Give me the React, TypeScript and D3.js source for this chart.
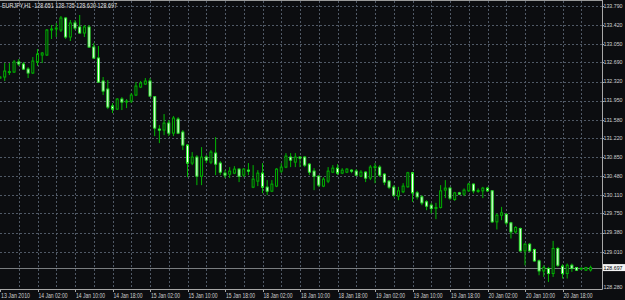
import React from "react";
import * as d3 from "d3";

const opens = [132.387,132.407,132.504,132.504,132.699,132.660,132.562,132.485,132.699,132.835,132.835,133.322,133.342,133.322,133.556,133.186,133.459,133.381,133.264,133.381,132.991,132.777,132.329,132.173,131.842,131.783,131.978,131.919,131.939,132.056,132.212,132.270,132.329,132.023,131.393,131.374,131.510,131.315,131.588,131.335,131.082,130.731,130.848,130.477,130.848,130.750,130.926,130.731,130.536,130.516,130.536,130.614,130.497,130.594,130.263,130.380,130.536,130.263,130.185,130.283,130.575,130.653,130.848,130.750,130.848,130.848,130.711,130.575,130.477,130.283,130.380,130.555,130.633,130.536,130.555,130.594,130.575,130.477,130.555,130.439,130.653,130.653,130.516,130.380,130.263,130.088,130.172,130.269,130.542,130.152,130.074,129.977,129.912,129.860,129.868,130.205,130.244,130.023,130.152,130.127,130.191,130.322,130.191,130.191,130.244,130.191,129.587,129.717,129.731,129.567,129.392,129.458,129.022,129.152,129.049,128.827,128.632,128.679,128.581,129.069,128.724,128.581,128.743,128.698,128.679,128.646,128.651];
const highs = [132.426,132.679,132.679,132.738,132.757,132.699,132.601,132.796,132.952,132.894,133.342,133.420,133.459,133.595,133.576,133.517,133.517,133.615,133.420,133.420,133.069,133.011,132.407,132.348,131.900,131.997,132.017,131.978,132.095,132.309,132.329,132.387,132.387,132.036,131.471,131.686,131.569,131.647,131.627,131.374,131.101,130.945,130.887,131.043,130.887,130.984,131.237,130.770,130.594,130.653,130.672,130.633,130.633,130.731,130.692,130.594,130.731,130.400,130.400,130.633,130.731,130.926,130.926,130.926,130.867,130.867,130.731,130.633,130.497,130.458,130.653,130.692,130.711,130.633,130.633,130.614,130.614,130.594,130.575,130.692,130.731,130.692,130.536,130.400,130.302,130.269,130.341,130.561,130.561,130.191,130.107,130.010,129.957,129.957,130.302,130.400,130.269,130.172,130.172,130.238,130.347,130.335,130.238,130.269,130.269,130.205,129.751,129.879,129.762,129.587,129.503,129.478,129.178,129.178,129.069,128.854,128.743,128.710,129.217,129.100,128.763,128.776,128.776,128.710,128.698,128.710,128.735];
const lows = [132.368,132.329,132.446,132.485,132.621,132.543,132.387,132.465,132.621,132.679,132.816,133.147,133.186,133.283,133.147,133.108,133.322,133.245,133.186,132.972,132.757,132.290,132.056,131.783,131.705,131.764,131.764,131.803,131.900,132.036,132.192,132.251,132.017,131.257,131.121,131.276,131.257,131.257,131.296,130.984,130.458,130.692,130.302,130.302,130.731,130.711,130.497,130.497,130.439,130.439,130.516,130.361,130.458,130.497,130.244,130.283,130.146,130.107,130.166,130.263,130.536,130.633,130.653,130.653,130.653,130.653,130.497,130.205,130.263,130.263,130.341,130.536,130.497,130.516,130.536,130.536,130.477,130.458,130.361,130.400,130.341,130.458,130.302,130.224,130.068,130.010,130.146,130.253,129.977,130.023,129.912,129.815,129.751,129.640,129.848,130.049,130.010,129.996,130.107,130.088,130.172,130.140,130.152,130.049,130.172,129.567,129.439,129.620,129.523,129.263,129.361,129.002,128.743,129.002,128.808,128.548,128.515,128.418,128.515,128.710,128.484,128.484,128.613,128.632,128.646,128.632,128.620];
const closes = [132.407,132.523,132.514,132.699,132.660,132.562,132.485,132.718,132.855,132.874,133.322,133.342,133.361,133.556,133.186,133.459,133.361,133.264,133.381,132.991,132.777,132.309,132.134,131.822,131.783,131.978,131.919,131.939,132.056,132.231,132.290,132.329,132.036,131.413,131.384,131.510,131.315,131.608,131.315,131.082,130.731,130.848,130.477,130.848,130.789,130.945,130.711,130.555,130.497,130.575,130.614,130.477,130.614,130.575,130.419,130.536,130.263,130.185,130.322,130.614,130.653,130.867,130.789,130.848,130.838,130.692,130.555,130.477,130.302,130.419,130.575,130.633,130.536,130.594,130.614,130.575,130.497,130.555,130.439,130.653,130.663,130.497,130.361,130.263,130.107,130.191,130.283,130.542,130.152,130.074,129.957,129.893,129.848,129.868,130.191,130.244,130.049,130.152,130.127,130.205,130.322,130.191,130.199,130.244,130.191,129.587,129.717,129.762,129.567,129.392,129.478,129.022,129.152,129.022,128.827,128.632,128.698,128.581,129.069,128.743,128.581,128.743,128.679,128.646,128.685,128.698,128.697];

const timeLabels = ["13 Jan 2010","14 Jan 02:00","14 Jan 10:00","14 Jan 18:00","15 Jan 02:00","15 Jan 10:00","15 Jan 18:00","18 Jan 02:00","18 Jan 10:00","18 Jan 18:00","19 Jan 02:00","19 Jan 10:00","19 Jan 18:00","20 Jan 02:00","20 Jan 10:00","20 Jan 18:00"];
const priceTicks = [133.790,133.420,133.050,132.690,132.320,131.950,131.580,131.220,130.850,130.480,130.110,129.750,129.380,129.010];
const priceMin = 128.280;
const title = "EURJPY,H1  128.651 128.735 128.620 128.697";

const W = 625, H = 300;
const plotR = 602, plotB = 289;
const BG = "#0c0d10";
const GRID = "#505966";
const FONT = "'Liberation Sans', Arial, sans-serif";
const FS = 6.3;
const FSP = 5.7;

export default function App() {
  const n = closes.length;
  const x = d3.scaleLinear().domain([0, 128]).range([0, 600]);
  const y = d3.scaleLinear().domain([priceMin, 133.790]).range([plotB, 6]);
  const last = closes[n - 1];
  const vGrid = d3.range(4, 128, 4);
  const priceText = (p: number, yy: number, fill: string, key: string) => (
    <text key={key} x={603.5} y={yy} dy="0.35em" fill={fill} fontSize={FSP} fontFamily={FONT}
      textLength={19} lengthAdjust="spacingAndGlyphs">{p.toFixed(3)}</text>
  );
  return (
    <svg width={W} height={H} style={{ position: "absolute", left: 0, top: 0, background: BG }}>
      <rect x={0} y={0} width={W} height={H} fill={BG} />
      {priceTicks.map((p, i) => (
        <line key={"h" + i} x1={0} x2={plotR} y1={Math.round(y(p)) + 0.5} y2={Math.round(y(p)) + 0.5}
          stroke={GRID} strokeDasharray="2,2" strokeWidth={1} />
      ))}
      {vGrid.map((v) => (
        <line key={"v" + v} x1={Math.round(x(v)) + 0.5} x2={Math.round(x(v)) + 0.5} y1={1} y2={plotB}
          stroke={GRID} strokeDasharray="2,2" strokeWidth={1} />
      ))}
      <line x1={0} x2={plotR} y1={Math.round(y(last)) + 0.5} y2={Math.round(y(last)) + 0.5} stroke="#7a7d80" strokeWidth={1} />
      {closes.map((c, i) => {
        const o = opens[i];
        const cx = x(i);
        const bull = c >= o;
        const top = y(Math.max(o, c));
        const bot = y(Math.min(o, c));
        const hgt = Math.max(bot - top, 1);
        return (
          <g key={"c" + i}>
            <line x1={cx} x2={cx} y1={y(highs[i])} y2={y(lows[i])} stroke="#00b800" strokeWidth={1} />
            <rect x={cx - 1} y={top} width={2} height={hgt}
              fill={bull ? BG : "#ffffff"} stroke={bull ? "#00b000" : "#2ee82e"} strokeWidth={1} />
          </g>
        );
      })}
      <line x1={0} x2={plotR + 0.5} y1={0.5} y2={0.5} stroke="#9a9a9a" />
      <line x1={plotR + 0.5} x2={plotR + 0.5} y1={0} y2={plotB + 0.5} stroke="#a8a8a8" />
      <line x1={0} x2={plotR + 0.5} y1={plotB + 0.5} y2={plotB + 0.5} stroke="#a8a8a8" />
      {priceTicks.map((p, i) => (
        <g key={"pt" + i}>
          <line x1={plotR} x2={plotR + 2} y1={Math.round(y(p)) + 0.5} y2={Math.round(y(p)) + 0.5} stroke="#a8a8a8" />
          {priceText(p, y(p), "#d0d0d0", "ptt" + i)}
        </g>
      ))}
      {priceText(priceMin, plotB - 2, "#d0d0d0", "pmin")}
      <rect x={603} y={y(last) - 3.5} width={22} height={7} fill="#f4f4f4" />
      {priceText(last, y(last), "#000000", "plast")}
      {timeLabels.map((t, i) => (
        <g key={"t" + i}>
          <line x1={Math.round(x(i * 8)) + 0.5} x2={Math.round(x(i * 8)) + 0.5} y1={plotB} y2={plotB + 3} stroke="#a8a8a8" />
          <text x={x(i * 8) + 1} y={297.5} fill="#d0d0d0" fontSize={FS} fontFamily={FONT}
            textLength={29} lengthAdjust="spacingAndGlyphs">{t}</text>
        </g>
      ))}
      <text x={2} y={8} fill="#e0e0e0" fontSize={FS} fontFamily={FONT} style={{ whiteSpace: "pre" }}
        textLength={115} lengthAdjust="spacingAndGlyphs">{title}</text>
    </svg>
  );
}
